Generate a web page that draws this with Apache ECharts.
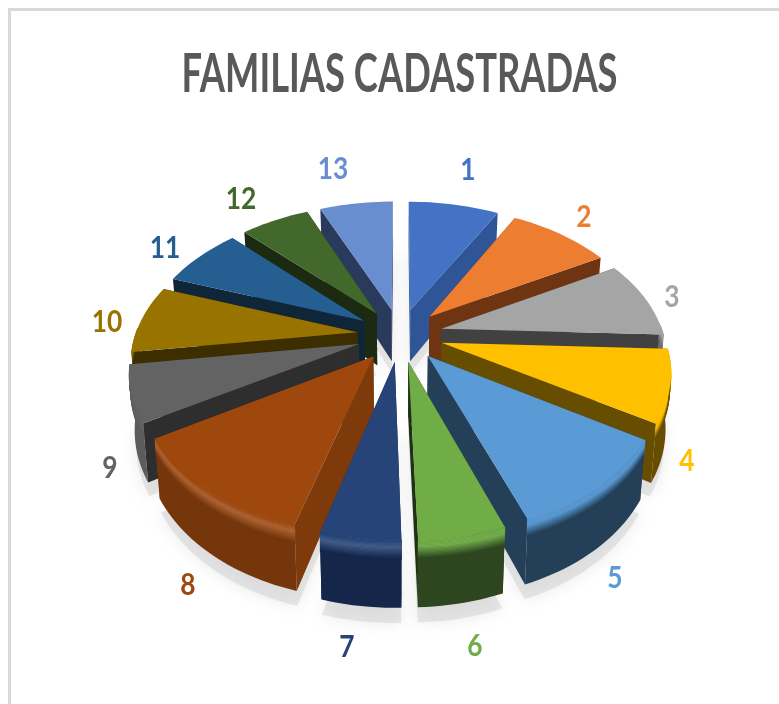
<!DOCTYPE html>
<html>
<head>
<meta charset="utf-8">
<title>Familias cadastradas</title>
<style>
html,body{margin:0;padding:0;background:#fff;}
#myChart{width:779px;height:704px;}
</style>
</head>
<body>
<div id="myChart"></div>
<script src="https://cdn.jsdelivr.net/npm/echarts@6/dist/echarts.min.js"></script>
<script>
// (slice angles un-projected, so estimates)
var categories = ['1','2','3','4','5','6','7','8','9','10','11','12','13'];
var values = [79,89,89,82,106,51,47,121,64,78,71,60,64];

var topColors  = ['#4472c4','#ed7d31','#a5a5a5','#ffc000','#5b9bd5','#70ad47','#264478','#9e480e','#636363','#997300','#255e91','#43682b','#698ed0'];
var rimColors  = ['#2f5597','#6f3512','#6e6e6e','#664d00','#244058','#2d4620','#14264a','#76360b','#5c5c5c','#3d2e00','#0f2639','#1b2a11','#2a3a5c'];
var sideColors = ['#2f5597','#6f3512','#414141','#664d00','#244058','#1f3216','#14264a','#7f3a0b','#2e2e2e','#3d2e00','#0f2639','#1b2a11','#2a3a5c'];
var shine      = [0,0,0,0,0,0.03,0.14,0.16,0,0,0,0,0];
// Excel placed the labels by hand, so these are pixel anchors
var labelAt = [[468,170],[584,217],[672,297],[687,461],[615,578],[475,646],[347,647],[188,585],[110,468],[107,322],[165,248],[241,199],[333,169]];

// projection of the tilted disc
var cx = 400, cy = 335, tilt = 0.612, persp = 0.0008;
var radius = 222, explode = 43, depth = 53, bevel = 15;

function proj(X, Y, z) {
    var s = 1 / (1 - persp * Y);
    var b = 1 - 0.02 * z / depth;
    return [cx + X * s * b, cy + tilt * Y * s + z * s];
}
function hex(c) {
    return [parseInt(c.substr(1,2),16), parseInt(c.substr(3,2),16), parseInt(c.substr(5,2),16)];
}
function mix(a, b, t) {
    var x = hex(a), y = hex(b);
    return '#' + [0,1,2].map(function (i) {
        var v = Math.round(x[i] + (y[i] - x[i]) * t).toString(16);
        return v.length < 2 ? '0' + v : v;
    }).join('');
}

var total = values.reduce(function (a, b) { return a + b; }, 0);
var slices = [], acc = 0;
values.forEach(function (v, i) {
    var a0 = acc / total * Math.PI * 2;
    acc += v;
    var a1 = acc / total * Math.PI * 2;
    var mid = (a0 + a1) / 2;
    slices.push({ a0: a0, a1: a1, ox: explode * Math.sin(mid), oy: -explode * Math.cos(mid), idx: i });
});
// painter's order, back slices first
var order = slices.slice().sort(function (p, q) { return p.oy - q.oy; });
order.forEach(function (s, r) { s.rank = r; });

function arcBetween(s, from, to, z, reverse) {
    var pts = [], n = Math.max(1, Math.ceil((to - from) / 0.03));
    for (var i = 0; i <= n; i++) {
        var a = from + (to - from) * i / n;
        pts.push(proj(s.ox + radius * Math.sin(a), s.oy - radius * Math.cos(a), z));
    }
    return reverse ? pts.reverse() : pts;
}
function edge(s, a) {
    var X = s.ox + radius * Math.sin(a), Y = s.oy - radius * Math.cos(a);
    return [proj(s.ox, s.oy, 0), proj(X, Y, 0), proj(X, Y, depth), proj(s.ox, s.oy, depth)];
}

function renderSlice(params, api) {
    var s = slices[api.value(0)], i = s.idx, base = 10 + s.rank * 40, kids = [];
    function poly(points, fill, z2, extra) {
        var st = { fill: fill };
        for (var k in extra) st[k] = extra[k];
        kids.push({ type: 'polygon', shape: { points: points }, style: st, z2: z2, silent: true });
    }
    // soft shadow on the ground
    var sh = arcBetween(s, s.a0, s.a1, depth + 12).concat([proj(s.ox, s.oy, depth + 12)]);
    poly(sh, 'rgba(205,205,205,0.45)', 1, { shadowBlur: 16, shadowColor: 'rgba(170,170,170,0.55)' });

    poly(edge(s, s.a0), sideColors[i], base);
    poly(edge(s, s.a1), sideColors[i], base + 1);

    // only the front half of the rim can be seen
    var from = Math.max(s.a0, Math.PI / 2 - 0.03), to = Math.min(s.a1, Math.PI * 1.5 + 0.03);
    if (to > from) {
        poly(arcBetween(s, from, to, 0).concat(arcBetween(s, from, to, depth, true)), rimColors[i], base + 2);
        // rounded edge: thin strips from the top colour into the wall colour
        var steps = 15, lit = mix(topColors[i], '#ffffff', shine[i]);
        for (var j = 0; j < steps; j++) {
            var t = j / (steps - 1), col;
            if (t < 0.35) col = mix(topColors[i], lit, t / 0.35);
            else col = mix(lit, rimColors[i], (t - 0.35) / 0.65);
            poly(arcBetween(s, from, to, bevel * j / steps).concat(arcBetween(s, from, to, bevel * (j + 1) / steps, true)), col, base + 3 + j, { stroke: col, lineWidth: 0.6 });
        }
    }
    poly(arcBetween(s, s.a0, s.a1, 0).concat([proj(s.ox, s.oy, 0)]), topColors[i], base + 20);

    kids.push({
        type: 'text',
        x: labelAt[i][0], y: labelAt[i][1],
        scaleX: 0.85,
        z2: 900,
        silent: true,
        style: {
            text: categories[i],
            fill: topColors[i],
            font: 'bold 31px Lato',
            align: 'center',
            verticalAlign: 'middle'
        }
    });
    return { type: 'group', children: kids };
}

var myChart = echarts.init(document.getElementById('myChart'), null, { renderer: 'canvas' });
myChart.setOption({
    animation: false,
    backgroundColor: '#ffffff',
    graphic: [{
        type: 'polyline',
        shape: { points: [[9.5,704],[9.5,9.5],[779,9.5]] },
        style: { stroke: '#d9d9d9', lineWidth: 3, fill: null },
        silent: true
    }, {
        type: 'text',
        x: 399.5, y: 75,
        scaleX: 0.673,
        silent: true,
        style: {
            text: 'FAMILIAS CADASTRADAS',
            fill: '#595959',
            font: 'bold 54px Lato',
            align: 'center',
            verticalAlign: 'middle'
        }
    }],
    series: [{
        type: 'custom',
        coordinateSystem: 'none',
        renderItem: renderSlice,
        data: categories.map(function (c, i) { return [i, values[i]]; })
    }]
});
</script>
</body>
</html>
